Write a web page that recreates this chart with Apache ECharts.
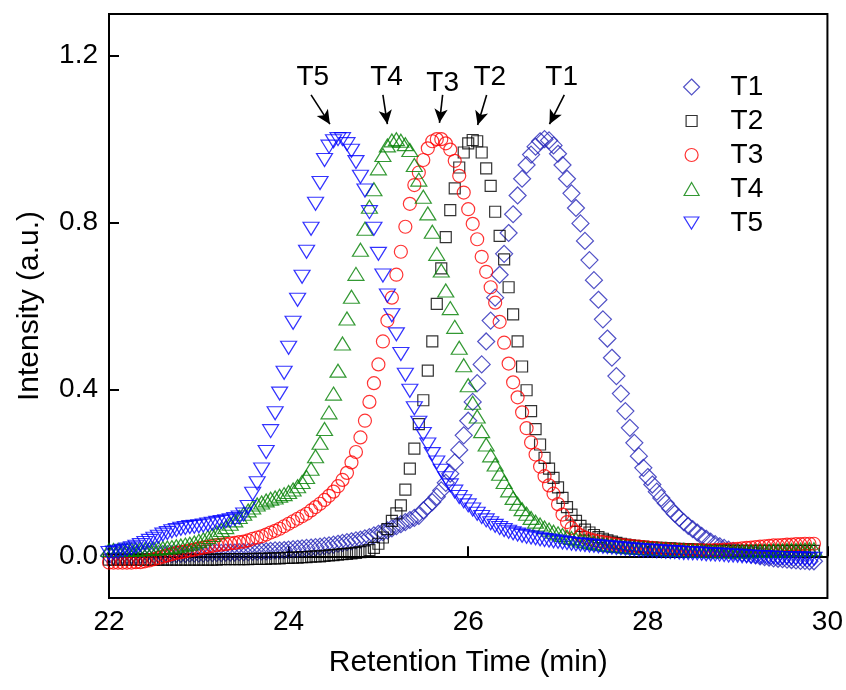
<!DOCTYPE html>
<html><head><meta charset="utf-8">
<script src="https://cdn.jsdelivr.net/npm/echarts@6/dist/echarts.min.js"></script>
<style>html,body{margin:0;padding:0;background:#fff}#c{width:846px;height:690px}</style>
</head><body><div id="c"></div><script>
// sampling of the retention-time axis (min)
const T_START = 22.0;
const T_STEP = 0.05;

const seriesNames = ['T1', 'T2', 'T3', 'T4', 'T5'];

const t1Values = [
 0.002,0.002,0.002,0.003,0.003,0.003,0.003,0.004,0.004,0.004,
 0.004,0.005,0.005,0.005,0.005,0.006,0.006,0.006,0.007,0.007,
 0.007,0.007,0.008,0.008,0.008,0.008,0.009,0.009,0.009,0.010,
 0.010,0.010,0.011,0.011,0.012,0.012,0.013,0.014,0.014,0.015,
 0.016,0.017,0.018,0.019,0.020,0.021,0.022,0.023,0.025,0.026,
 0.028,0.030,0.032,0.034,0.036,0.038,0.040,0.043,0.046,0.050,
 0.054,0.058,0.062,0.067,0.072,0.077,0.082,0.087,0.092,0.097,
 0.110,0.120,0.130,0.143,0.158,0.176,0.198,0.225,0.255,0.290,
 0.325,0.370,0.415,0.460,0.515,0.565,0.620,0.675,0.725,0.775,
 0.820,0.865,0.905,0.938,0.963,0.982,0.995,1.000,0.997,0.985,
 0.965,0.938,0.905,0.870,0.835,0.798,0.756,0.710,0.662,0.615,
 0.568,0.522,0.476,0.432,0.390,0.348,0.308,0.272,0.240,0.212,
 0.190,0.172,0.155,0.140,0.127,0.114,0.102,0.092,0.082,0.073,
 0.065,0.057,0.049,0.042,0.035,0.029,0.024,0.020,0.016,0.013,
 0.010,0.008,0.006,0.004,0.002,0.000,-0.002,-0.003,-0.005,-0.006,
 -0.007,-0.008,-0.009,-0.010,-0.011,-0.011,-0.012,-0.012
];

const t2Values = [
 -0.008,-0.008,-0.008,-0.008,-0.008,-0.008,-0.008,-0.008,-0.008,-0.008,
 -0.008,-0.008,-0.008,-0.008,-0.008,-0.008,-0.008,-0.008,-0.008,-0.008,
 -0.008,-0.008,-0.008,-0.008,-0.008,-0.007,-0.007,-0.007,-0.007,-0.007,
 -0.007,-0.007,-0.006,-0.006,-0.006,-0.006,-0.005,-0.005,-0.005,-0.004,
 -0.004,-0.003,-0.003,-0.002,-0.002,-0.001,0.000,0.000,0.001,0.002,
 0.003,0.004,0.005,0.006,0.007,0.008,0.010,0.012,0.015,0.020,
 0.030,0.045,0.065,0.085,0.103,0.122,0.160,0.210,0.258,0.317,
 0.374,0.445,0.515,0.605,0.690,0.765,0.830,0.882,0.932,0.968,
 0.990,0.998,0.995,0.968,0.930,0.888,0.826,0.768,0.712,0.645,
 0.580,0.515,0.455,0.398,0.348,0.305,0.268,0.236,0.210,0.188,
 0.165,0.140,0.118,0.100,0.085,0.073,0.064,0.057,0.051,0.046,
 0.042,0.038,0.035,0.032,0.030,0.028,0.026,0.025,0.024,0.023,
 0.022,0.021,0.020,0.020,0.019,0.019,0.018,0.018,0.017,0.017,
 0.016,0.016,0.015,0.015,0.015,0.014,0.014,0.014,0.013,0.013,
 0.013,0.013,0.013,0.013,0.013,0.013,0.013,0.013,0.013,0.013,
 0.013,0.013,0.013,0.013,0.013,0.013,0.013,0.013
];

const t3Values = [
 -0.015,-0.015,-0.015,-0.015,-0.015,-0.015,-0.014,-0.014,-0.012,-0.010,
 -0.007,-0.004,-0.001,0.002,0.005,0.008,0.010,0.012,0.014,0.016,
 0.019,0.021,0.023,0.025,0.027,0.028,0.029,0.031,0.032,0.034,
 0.035,0.038,0.042,0.045,0.048,0.052,0.057,0.061,0.066,0.072,
 0.078,0.084,0.090,0.096,0.102,0.110,0.118,0.126,0.135,0.145,
 0.155,0.168,0.183,0.200,0.225,0.250,0.285,0.325,0.370,0.415,
 0.460,0.515,0.565,0.620,0.675,0.730,0.790,0.845,0.890,0.920,
 0.950,0.978,0.995,1.000,1.000,0.990,0.975,0.948,0.912,0.872,
 0.832,0.797,0.760,0.718,0.682,0.645,0.608,0.562,0.512,0.462,
 0.417,0.381,0.345,0.307,0.273,0.244,0.215,0.192,0.170,0.150,
 0.125,0.100,0.082,0.068,0.058,0.050,0.045,0.041,0.038,0.036,
 0.034,0.032,0.030,0.028,0.027,0.026,0.025,0.024,0.023,0.022,
 0.021,0.020,0.019,0.018,0.017,0.016,0.016,0.015,0.015,0.014,
 0.014,0.014,0.014,0.014,0.014,0.015,0.015,0.016,0.016,0.017,
 0.018,0.019,0.020,0.021,0.022,0.023,0.024,0.025,0.026,0.026,
 0.027,0.028,0.028,0.029,0.029,0.030,0.030,0.030
];

const t4Values = [
 0.015,0.015,0.015,0.015,0.016,0.016,0.016,0.017,0.017,0.018,
 0.018,0.019,0.020,0.021,0.022,0.024,0.026,0.028,0.030,0.033,
 0.037,0.041,0.046,0.051,0.057,0.063,0.070,0.078,0.086,0.094,
 0.102,0.110,0.117,0.124,0.129,0.134,0.138,0.141,0.145,0.149,
 0.154,0.160,0.168,0.178,0.190,0.210,0.240,0.272,0.305,0.345,
 0.390,0.445,0.510,0.570,0.622,0.677,0.735,0.785,0.838,0.880,
 0.930,0.962,0.985,0.997,1.000,0.996,0.988,0.974,0.938,0.903,
 0.862,0.822,0.778,0.725,0.685,0.637,0.595,0.550,0.500,0.458,
 0.410,0.368,0.335,0.300,0.268,0.242,0.220,0.198,0.178,0.158,
 0.140,0.126,0.113,0.102,0.092,0.083,0.076,0.069,0.064,0.059,
 0.055,0.051,0.047,0.044,0.041,0.038,0.036,0.034,0.032,0.030,
 0.029,0.027,0.026,0.025,0.024,0.023,0.022,0.021,0.020,0.020,
 0.019,0.018,0.018,0.017,0.017,0.016,0.016,0.015,0.015,0.014,
 0.014,0.013,0.013,0.013,0.012,0.012,0.012,0.012,0.012,0.012,
 0.012,0.012,0.012,0.012,0.013,0.013,0.013,0.013,0.014,0.014,
 0.014,0.015,0.015,0.015,0.016,0.016,0.017,0.017
];

const t5Values = [
 0.008,0.009,0.011,0.013,0.016,0.019,0.023,0.027,0.032,0.037,
 0.042,0.047,0.052,0.056,0.060,0.063,0.066,0.068,0.070,0.071,
 0.072,0.074,0.076,0.078,0.080,0.082,0.084,0.086,0.089,0.093,
 0.100,0.118,0.150,0.175,0.208,0.250,0.300,0.343,0.390,0.440,
 0.500,0.560,0.615,0.670,0.730,0.785,0.845,0.895,0.950,0.982,
 0.995,1.000,1.000,0.988,0.972,0.945,0.910,0.877,0.825,0.785,
 0.725,0.673,0.625,0.578,0.532,0.485,0.435,0.397,0.355,0.320,
 0.293,0.268,0.245,0.225,0.205,0.187,0.170,0.155,0.142,0.132,
 0.122,0.112,0.102,0.094,0.086,0.079,0.073,0.068,0.063,0.059,
 0.055,0.052,0.049,0.047,0.045,0.043,0.041,0.039,0.038,0.036,
 0.035,0.033,0.032,0.030,0.029,0.028,0.027,0.026,0.025,0.024,
 0.023,0.022,0.021,0.020,0.019,0.018,0.017,0.016,0.015,0.014,
 0.014,0.013,0.012,0.012,0.011,0.010,0.010,0.009,0.008,0.008,
 0.007,0.007,0.006,0.005,0.005,0.004,0.004,0.003,0.002,0.002,
 0.001,0.000,0.000,-0.001,-0.001,-0.002,-0.002,-0.003,-0.003,-0.004,
 -0.004,-0.004,-0.005,-0.005,-0.005,-0.006,-0.006,-0.006
];

const xTicks = [22, 24, 26, 28, 30];
const yTicks = [0, 0.4, 0.8, 1.2];

// peak annotations: label, label anchor, arrow tail, arrow head (data coords)
const annLabels = ['T5', 'T4', 'T3', 'T2', 'T1'];
const annTextAt = [[24.27, 1.149], [25.09, 1.149], [25.715, 1.135], [26.24, 1.149], [27.04, 1.149]];
const annArrowFrom = [[24.25, 1.106], [25.05, 1.106], [25.715, 1.106], [26.205, 1.106], [27.07, 1.106]];
const annArrowTo = [[24.46, 1.036], [25.10, 1.036], [25.68, 1.039], [26.105, 1.034], [26.905, 1.036]];

// ---------- styling ----------
const FONT = '"Liberation Sans", Arial, Helvetica, sans-serif';
const allValues = [t1Values, t2Values, t3Values, t4Values, t5Values];
const DOWN_TRI = 'path://M0,0L16,0L8,13Z';
const styles = [
  { symbol: 'diamond', size: [17, 17], rot: 0, color: '#2626b8', lw: [16, 16], icon: 'diamond' },
  { symbol: 'rect', size: [11, 11], rot: 0, color: '#000000', lw: [11, 11], icon: 'rect' },
  { symbol: 'circle', size: [13, 13], rot: 0, color: '#ff0000', lw: [13, 13], icon: 'circle' },
  { symbol: 'triangle', size: [16, 13], rot: 0, color: '#008000', lw: [15, 13], icon: 'triangle' },
  { symbol: DOWN_TRI, size: [16, 13], rot: 0, color: '#0000ff', lw: [15, 12], icon: DOWN_TRI }
];

function toPairs(vals) {
  return vals.map((v, i) => [+(T_START + i * T_STEP).toFixed(3), v]);
}

const series = seriesNames.map((name, k) => ({
  name: name,
  type: 'scatter',
  data: toPairs(allValues[k]),
  symbol: styles[k].symbol,
  symbolSize: styles[k].size,
  symbolKeepAspect: false,
  itemStyle: { color: 'rgba(0,0,0,0)', borderColor: styles[k].color, borderWidth: 1.2 },
  emphasis: { disabled: true },
  silent: true,
  z: 2 + k
}));

series.push({
  name: 'annotations',
  type: 'scatter',
  data: [],
  silent: true,
  markLine: {
    silent: true,
    symbol: ['none', 'arrow'],
    symbolSize: [10, 14],
    label: { show: false },
    lineStyle: { color: '#000', width: 1.6, type: 'solid' },
    data: annLabels.map((n, i) => [{ coord: annArrowFrom[i] }, { coord: annArrowTo[i] }])
  },
  markPoint: {
    silent: true,
    symbol: 'circle',
    symbolSize: 0,
    label: { show: true, formatter: '{b}', color: '#000', fontSize: 28, fontFamily: FONT, position: 'inside' },
    data: annLabels.map((n, i) => ({ name: n, coord: annTextAt[i] }))
  }
});

const legends = seriesNames.map((name, k) => {
  const w = styles[k].lw[0], h = styles[k].lw[1];
  return {
    data: [{ name: name, icon: styles[k].icon }],
    orient: 'vertical',
    left: 691 - w / 2,
    top: 87 + 34 * k - 14,
    padding: 0,
    itemWidth: w,
    itemHeight: h,
    selectedMode: false,
    itemStyle: { color: 'rgba(0,0,0,0)', borderColor: styles[k].color, borderWidth: 1.2 },
    textStyle: { fontSize: 28, lineHeight: 28, fontFamily: FONT, color: '#000', padding: [0, 0, 0, 34 - w / 2] }
  };
});

const option = {
  animation: false,
  backgroundColor: '#ffffff',
  textStyle: { fontFamily: FONT },
  grid: { left: 109, right: 18, top: 14, bottom: 92, show: true, borderColor: '#000', borderWidth: 2 },
  legend: legends,
  xAxis: {
    type: 'value',
    min: xTicks[0],
    max: xTicks[xTicks.length - 1],
    interval: 2,
    name: 'Retention Time (min)',
    nameLocation: 'middle',
    nameGap: 50,
    nameTextStyle: { fontSize: 30, color: '#000', fontFamily: FONT },
    axisLine: { lineStyle: { color: '#000', width: 2 } },
    axisTick: { inside: true, length: 10, lineStyle: { color: '#000', width: 2 } },
    axisLabel: { fontSize: 28, color: '#000', margin: 10, fontFamily: FONT },
    splitLine: { show: false }
  },
  yAxis: {
    type: 'value',
    min: -0.1,
    max: 1.3,
    name: 'Intensity (a.u.)',
    nameLocation: 'middle',
    nameGap: 64,
    nameTextStyle: { fontSize: 30, color: '#000', fontFamily: FONT },
    axisLine: { show: true, lineStyle: { color: '#000', width: 2 } },
    axisTick: { show: true, inside: true, length: 10, customValues: yTicks, lineStyle: { color: '#000', width: 2 } },
    axisLabel: { fontSize: 28, color: '#000', margin: 11, fontFamily: FONT, customValues: yTicks, formatter: v => v.toFixed(1) },
    splitLine: { show: false }
  },
  series: series
};

const chart = echarts.init(document.getElementById('c'), null, { renderer: 'canvas' });
chart.setOption(option);
</script></body></html>
